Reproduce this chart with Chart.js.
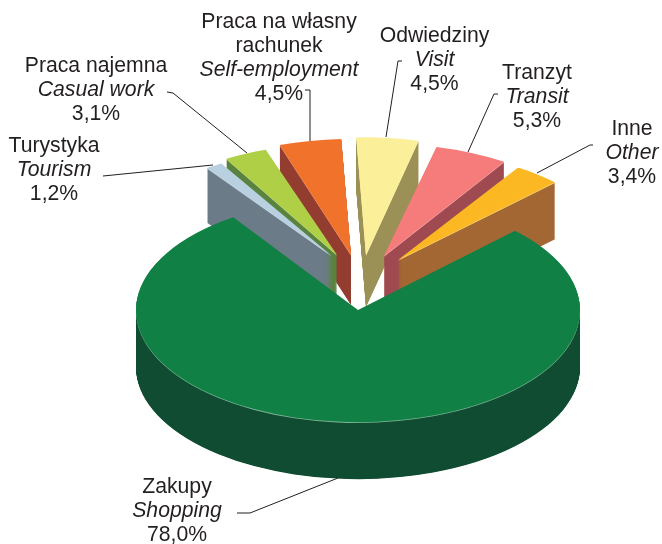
<!DOCTYPE html>
<html><head><meta charset="utf-8">
<style>html,body{margin:0;padding:0;background:#fff}canvas{display:block}</style>
<script src="https://cdn.jsdelivr.net/npm/chart.js@4"></script>
</head><body><canvas id="c" width="662" height="544"></canvas>
<script>
// Data
const polishNames = ["Zakupy","Turystyka","Praca najemna","Praca na własny\nrachunek","Odwiedziny","Tranzyt","Inne"];
const englishNames = ["Shopping","Tourism","Casual work","Self-employment","Visit","Transit","Other"];
const shares = [78.0,1.2,3.1,4.5,4.5,5.3,3.4];
const topColors = ["#108045","#b8d0e0","#afcf47","#f1722a","#fbef99","#f67b7b","#fbb823"];
const wallColors = ["#0f4c32","#6b7b88","#5a8340","#933c30","#9b9055","#9e4a50","#a26733"];
const rimColors = ["#7fb596","#c6d6e2","#c4dc80","#f5a878","#fbf3bb","#f9aaaa","#fcd27a"];

// Layout of the exploded slices and labels (pixels)
const apexX = [358,332,337,351,366,384,398];
const apexY = [310,256,255,255,255,256,260];
const squash = [0.505,0.48,0.5,0.523,0.53,0.505,0.495];
const depth = [57,55,50,50,52,55,57];
const drawOrder = [4,3,2,1,5,6,0];
const labelX = [177,54,96,279,434.5,537,632];
const labelBase = [493,152,72,28,42,79,135];
const lineH = 24;
const leaders = [
  [[237,513],[250,513],[338,478]],
  [[103,176],[213,165]],
  [[167,92],[173,93],[247,153]],
  [[305,90],[310,90],[310,141]],
  [[402,61],[398,61],[386,137]],
  [[498,94],[494,94],[468,152]],
  [[593,145],[590,145],[537,173]]
];
const CX = 358, CY = 310, FONT = '"Liberation Sans", Arial, sans-serif', INK = '#231f20';
const LABEL_PX = 21.2, WALL_STEP = 0.5;

const slices3d = {
  id:'slices3d',
  beforeDatasetsDraw(chart){
    const ctx = chart.ctx, arcs = chart.getDatasetMeta(0).data;
    const off = document.createElement('canvas');
    off.width = chart.canvas.width; off.height = chart.canvas.height;
    const octx = off.getContext('2d');
    const layer = (target,i,d,color) => {
      const arc = arcs[i], saved = arc.options;
      target.save();
      target.translate(apexX[i], apexY[i] + d);
      target.scale(1, squash[i]);
      target.translate(-CX, -CY);
      arc.options = Object.assign({}, saved, {backgroundColor:color});
      arc.draw(target);
      arc.options = saved;
      target.restore();
    };
    drawOrder.forEach(i => {
      // The side wall is stacked off screen, then flattened to one solid colour.
      octx.globalCompositeOperation = 'source-over';
      octx.clearRect(0, 0, off.width, off.height);
      for (let d = depth[i]; d >= 1; d -= WALL_STEP) layer(octx, i, d, wallColors[i]);
      octx.globalCompositeOperation = 'source-in';
      octx.fillStyle = wallColors[i];
      octx.fillRect(0, 0, off.width, off.height);
      ctx.drawImage(off, 0, 0);
      layer(ctx, i, 0.8, rimColors[i]);
      layer(ctx, i, 0, topColors[i]);
    });
    return false;
  },
  afterDraw(chart){
    const ctx = chart.ctx;
    ctx.save();
    ctx.strokeStyle = INK; ctx.lineWidth = 1;
    leaders.forEach(pts => {
      ctx.beginPath();
      pts.forEach((p,k) => k ? ctx.lineTo(p[0],p[1]) : ctx.moveTo(p[0],p[1]));
      ctx.stroke();
    });
    ctx.fillStyle = INK; ctx.textAlign = 'center'; ctx.textBaseline = 'alphabetic';
    const plain = LABEL_PX + 'px ' + FONT, slanted = 'italic ' + plain;
    polishNames.forEach((name,i) => {
      let y = labelBase[i];
      ctx.font = plain;
      name.split('\n').forEach(t => { ctx.fillText(t, labelX[i], y); y += lineH; });
      ctx.font = slanted;
      ctx.fillText(englishNames[i], labelX[i], y); y += lineH;
      ctx.font = plain;
      ctx.fillText(shares[i].toFixed(1).replace('.',',') + '%', labelX[i], y);
    });
    ctx.restore();
  }
};

new Chart(document.getElementById('c'), {
  type:'pie',
  data:{ labels: polishNames, datasets:[{ data:shares, backgroundColor:topColors, borderWidth:0 }] },
  options:{
    responsive:false, animation:false, rotation:45, radius:222,
    layout:{ padding:{ left:54, top:76 } },
    plugins:{ legend:{display:false}, tooltip:{enabled:false} }
  },
  plugins:[slices3d]
});
</script></body></html>
